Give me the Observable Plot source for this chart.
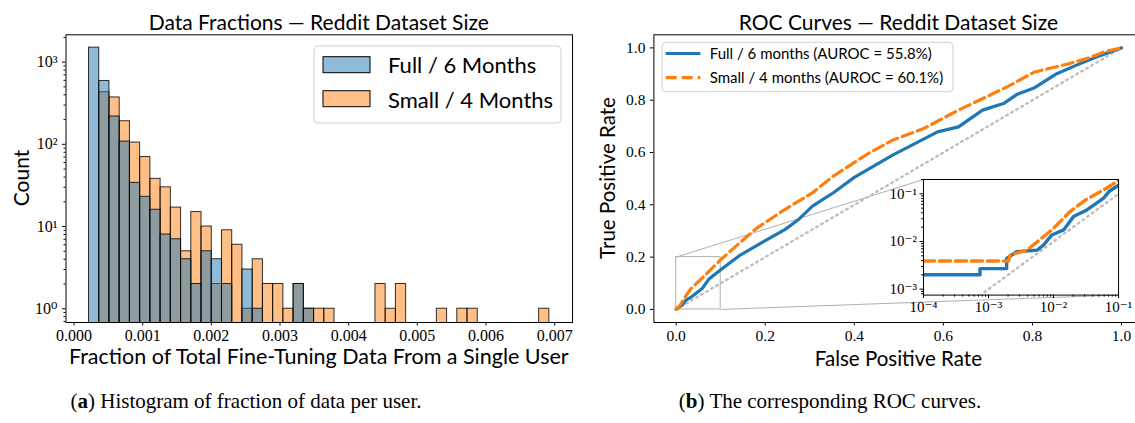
<!DOCTYPE html>
<html><head><meta charset="utf-8">
<script src="https://cdn.jsdelivr.net/npm/d3@7"></script>
<script src="https://cdn.jsdelivr.net/npm/@observablehq/plot@0.6"></script>
<style>
html,body{margin:0;padding:0;background:#fff;overflow:hidden;}
#root{position:relative;width:1135px;height:423px;overflow:hidden;background:#fff;}
.abs{position:absolute;white-space:nowrap;line-height:1;}
.sans{font-family:Lato,"DejaVu Sans",sans-serif;color:#000;}
.serif{font-family:"Liberation Serif","DejaVu Serif",serif;color:#000;}
</style></head><body><div id="root"></div>
<script>
// ---------------- data ----------------
const histSeries = ["Full / 6 Months", "Small / 4 Months"];
const histBinStart = 0.000218;
const histBinWidth = 0.000149;
const histFull  = [1500,590,218,108,34,23,16,8,7,4,2,5,4,2,0,3,1,0,0,0,2,1,0,0,0,0,0,0,0,0,0,0,0,0,0,0,0,0,0,0,0,0,0,0,0];
const histSmall = [0,430,372,191,105,70,38,30,17,5,15,10,2,9,6,1,4,2,2,1,2,1,1,1,0,0,0,0,2,1,2,0,0,0,1,0,1,1,0,0,0,0,0,0,1];
const histXTicks = [0,0.001,0.002,0.003,0.004,0.005,0.006,0.007];
const histYTicks = [1,10,100,1000];
const histXDomain = [-0.000117, 0.00726];
const histYDomain = [0.68, 2150];

const rocSeries = ["Full / 6 months (AUROC = 55.8%)", "Small / 4 months (AUROC = 60.1%)"];
const rocFullFpr = [0,0.0001,0.00074,0.00074,0.0019,0.0019,0.0027,0.0056,0.0070,0.0094,0.0143,0.0203,0.0326,0.0589,0.073,0.1,0.144,0.197,0.244,0.275,0.306,0.353,0.4,0.486,0.587,0.634,0.688,0.735,0.766,0.805,0.852,0.899,0.945,1];
const rocFullTpr = [0,0.002,0.002,0.0027,0.0027,0.0044,0.0061,0.0066,0.0084,0.0137,0.0175,0.0333,0.046,0.081,0.115,0.152,0.208,0.26,0.305,0.344,0.395,0.446,0.505,0.59,0.679,0.698,0.762,0.787,0.823,0.848,0.899,0.934,0.966,1];
const rocSmallFpr = [0,0.0001,0.00203,0.00215,0.0039,0.0070,0.0100,0.0180,0.0326,0.0589,0.1,0.137,0.182,0.244,0.306,0.353,0.431,0.486,0.556,0.634,0.704,0.743,0.805,0.883,0.922,0.961,1];
const rocSmallTpr = [0,0.0039,0.0039,0.0052,0.0066,0.0126,0.0189,0.0425,0.078,0.121,0.19,0.246,0.312,0.382,0.446,0.51,0.596,0.647,0.692,0.762,0.819,0.851,0.908,0.94,0.959,0.985,1];
const rocTicks = [0,0.2,0.4,0.6,0.8,1.0];
const rocDomain = [-0.05, 1.05];
const zoomBox = {x: [0, 0.1], y: [0, 0.2]};
const insetXDomain = [1e-4, 0.1];
const insetYDomain = [0.00075, 0.2];
const insetXTicks = [1e-4, 1e-3, 1e-2, 1e-1];
const insetYTicks = [1e-3, 1e-2, 1e-1];
const insetAt = {x1: 0.556, x2: 0.994, y1: 0.055, y2: 0.497};

const BLUE = "#1f77b4", ORANGE = "#ff7f0e";
const SERIF = "Liberation Serif, DejaVu Serif, serif";
const SANS = "Lato, DejaVu Sans, sans-serif";
const DOT = {stroke: "#bdbdbd", strokeWidth: 2.3, strokeDasharray: "1.8,4", clip: true};

// ---------------- helpers ----------------
const sup = n => String(n).replace(/-/g, "\u207B").replace(/\d/g, d => "\u2070\u00B9\u00B2\u00B3\u2074\u2075\u2076\u2077\u2078\u2079"[d]);
const pow10 = d => "10" + sup(Math.round(Math.log10(d)));
function minorLog([lo, hi]) {
  const out = [];
  for (let e = Math.floor(Math.log10(lo)); e <= Math.ceil(Math.log10(hi)); e++)
    for (let m = 2; m <= 9; m++) { const v = m * Math.pow(10, e); if (v >= lo && v <= hi) out.push(v); }
  return out;
}
const root = document.getElementById("root");
function place(node, left, top) {
  node.style.position = "absolute"; node.style.left = left + "px"; node.style.top = top + "px";
  root.appendChild(node); return node;
}
function label(html, cls, x, y, size, rotate) {
  const d = document.createElement("div");
  d.className = "abs " + cls; d.innerHTML = html;
  d.style.fontSize = size + "px"; d.style.left = x + "px"; d.style.top = y + "px";
  d.style.transform = "translate(-50%,-50%)" + (rotate ? " rotate(-90deg)" : "");
  root.appendChild(d); return d;
}

// ---------------- histogram ----------------
const histRows = [];
[histFull, histSmall].forEach((counts, s) => counts.forEach((c, i) => {
  if (c > 0) histRows.push({series: histSeries[s], x1: histBinStart + i * histBinWidth, x2: histBinStart + (i + 1) * histBinWidth, count: c});
}));
const barOpts = (name, color) => ({
  filter: d => d.series === name, x1: "x1", x2: "x2", y1: () => histYDomain[0] / 10, y2: "count",
  fill: color, fillOpacity: 0.5, stroke: "#000", strokeOpacity: 0.8, strokeWidth: 1, clip: true
});
const hist = Plot.plot({
  width: 590, height: 370,
  marginLeft: 65.5, marginRight: 18, marginTop: 34.3, marginBottom: 48,
  style: {fontFamily: SERIF, fontSize: "16px", color: "#000", background: "transparent", overflow: "visible"},
  x: {domain: histXDomain},
  y: {type: "log", domain: histYDomain},
  marks: [
    Plot.rect(histRows, barOpts(histSeries[1], ORANGE)),
    Plot.rect(histRows, barOpts(histSeries[0], BLUE)),
    Plot.axisX(histXTicks, {tickFormat: d3.format(".3f"), tickSize: 3.5, tickPadding: 4, label: null}),
    Plot.axisY(histYTicks, {tickFormat: pow10, tickSize: 3.5, tickPadding: 5, label: null}),
    Plot.axisY(minorLog(histYDomain), {tickFormat: () => "", tickSize: 2, label: null}),
    Plot.frame({stroke: "#000", strokeWidth: 1})
  ]
});
place(hist, 0, 0);

// ---------------- ROC ----------------
const rocRows = (fpr, tpr) => fpr.map((x, i) => ({x, y: tpr[i]}));
const fullRows = rocRows(rocFullFpr, rocFullTpr);
const smallRows = rocRows(rocSmallFpr, rocSmallTpr);
const ROC_LEFT = 600;
const roc = Plot.plot({
  width: 560, height: 370,
  marginLeft: 53.4, marginRight: 16.7, marginTop: 34.3, marginBottom: 48,
  style: {fontFamily: SERIF, fontSize: "15.5px", color: "#000", background: "transparent", overflow: "visible"},
  x: {domain: rocDomain},
  y: {domain: rocDomain},
  marks: [
    Plot.rect([zoomBox], {x1: d => d.x[0], x2: d => d.x[1], y1: d => d.y[0], y2: d => d.y[1], fill: "none", stroke: "#b0b0b0", strokeWidth: 1}),
    Plot.link([
      {x1: zoomBox.x[0], y1: zoomBox.y[1], x2: insetAt.x1, y2: insetAt.y2},
      {x1: zoomBox.x[1], y1: zoomBox.y[0], x2: insetAt.x2, y2: insetAt.y1}
    ], {x1: "x1", y1: "y1", x2: "x2", y2: "y2", stroke: "#b0b0b0", strokeWidth: 1}),
    Plot.line([{x: 0, y: 0}, {x: 1, y: 1}], {x: "x", y: "y", ...DOT}),
    Plot.line(fullRows, {x: "x", y: "y", stroke: BLUE, strokeWidth: 3.2}),
    Plot.line(smallRows, {x: "x", y: "y", stroke: ORANGE, strokeWidth: 3.2, strokeDasharray: "11,5"}),
    Plot.axisX(rocTicks, {tickFormat: d3.format(".1f"), tickSize: 3.5, tickPadding: 4, label: null}),
    Plot.axisY(rocTicks, {tickFormat: d3.format(".1f"), tickSize: 3.5, tickPadding: 5, label: null}),
    Plot.frame({stroke: "#000", strokeWidth: 1})
  ]
});
place(roc, ROC_LEFT, 0);

// ---------------- inset ----------------
const sx = roc.scale("x"), sy = roc.scale("y");
const fL = ROC_LEFT + sx.apply(insetAt.x1), fR = ROC_LEFT + sx.apply(insetAt.x2);
const fT = sy.apply(insetAt.y2), fB = sy.apply(insetAt.y1);
const mL = 45, mR = 20, mT = 6, mB = 28;
const pos = d => d.x > 0 && d.y > 0;
const inset = Plot.plot({
  width: (fR - fL) + mL + mR, height: (fB - fT) + mT + mB,
  marginLeft: mL, marginRight: mR, marginTop: mT, marginBottom: mB,
  style: {fontFamily: SERIF, fontSize: "15px", color: "#000", background: "transparent", overflow: "visible"},
  x: {type: "log", domain: insetXDomain},
  y: {type: "log", domain: insetYDomain},
  marks: [
    Plot.frame({fill: "#fff", stroke: "none"}),
    Plot.line([{x: insetXDomain[0], y: insetXDomain[0]}, {x: insetXDomain[1], y: insetXDomain[1]}], {x: "x", y: "y", ...DOT}),
    Plot.line(fullRows.filter(pos), {x: "x", y: "y", stroke: BLUE, strokeWidth: 3.4, clip: true}),
    Plot.line(smallRows.filter(pos), {x: "x", y: "y", stroke: ORANGE, strokeWidth: 3.4, strokeDasharray: "11,5", clip: true}),
    Plot.axisX(insetXTicks, {tickFormat: pow10, tickSize: 3.5, tickPadding: 3, label: null}),
    Plot.axisX(minorLog(insetXDomain), {tickFormat: () => "", tickSize: 2, label: null}),
    Plot.axisY(insetYTicks, {tickFormat: pow10, tickSize: 3.5, tickPadding: 3, label: null}),
    Plot.axisY(minorLog(insetYDomain), {tickFormat: () => "", tickSize: 2, label: null}),
    Plot.frame({stroke: "#000", strokeWidth: 1})
  ]
});
place(inset, fL - mL, fT - mT);

// ---------------- legends ----------------
const ov = d3.select(root).append("svg").attr("width", 1135).attr("height", 423)
  .style("position", "absolute").style("left", 0).style("top", 0).style("pointer-events", "none");
// histogram legend
ov.append("rect").attr("x", 314).attr("y", 46).attr("width", 247).attr("height", 77).attr("rx", 4)
  .attr("fill", "#fff").attr("fill-opacity", 0.8).attr("stroke", "#d0d0d0");
[[BLUE, 56.7, 65.5], [ORANGE, 90.7, 100]].forEach(([c, y, ty], i) => {
  ov.append("rect").attr("x", 323).attr("y", y).attr("width", 47).attr("height", 16)
    .attr("fill", c).attr("fill-opacity", 0.5).attr("stroke", "#000").attr("stroke-width", 1);
  ov.append("text").attr("x", 388).attr("y", ty).attr("dy", "0.36em").attr("font-family", SANS)
    .attr("font-size", 22).text(histSeries[i]);
});
// ROC legend
ov.append("rect").attr("x", 662).attr("y", 42.3).attr("width", 291).attr("height", 49.4).attr("rx", 4)
  .attr("fill", "#fff").attr("fill-opacity", 0.8).attr("stroke", "#d0d0d0");
[[BLUE, 53.5, null], [ORANGE, 77.7, "11,5"]].forEach(([c, y, dash], i) => {
  const l = ov.append("line").attr("x1", 665.7).attr("x2", 700.4).attr("y1", y).attr("y2", y)
    .attr("stroke", c).attr("stroke-width", 3.2);
  if (dash) l.attr("stroke-dasharray", dash);
  ov.append("text").attr("x", 709.8).attr("y", y).attr("dy", "0.36em").attr("font-family", SANS)
    .attr("font-size", 15).text(rocSeries[i]);
});

// ---------------- titles, labels, captions ----------------
label("Data Fractions \u2014 Reddit Dataset Size", "sans", 318.8, 20.5, 21);
label("ROC Curves \u2014 Reddit Dataset Size", "sans", 898.4, 20.5, 21);
label("Count", "sans", 20, 178, 21, true);
label("Fraction of Total Fine-Tuning Data From a Single User", "sans", 318.8, 357, 21.5);
label("True Positive Rate", "sans", 607, 178, 20.5, true);
label("False Positive Rate", "sans", 898.4, 358, 20.5);
label("(<b>a</b>) Histogram of fraction of data per user.", "serif", 246, 401, 21);
label("(<b>b</b>) The corresponding ROC curves.", "serif", 830, 401, 21);
</script></body></html>
